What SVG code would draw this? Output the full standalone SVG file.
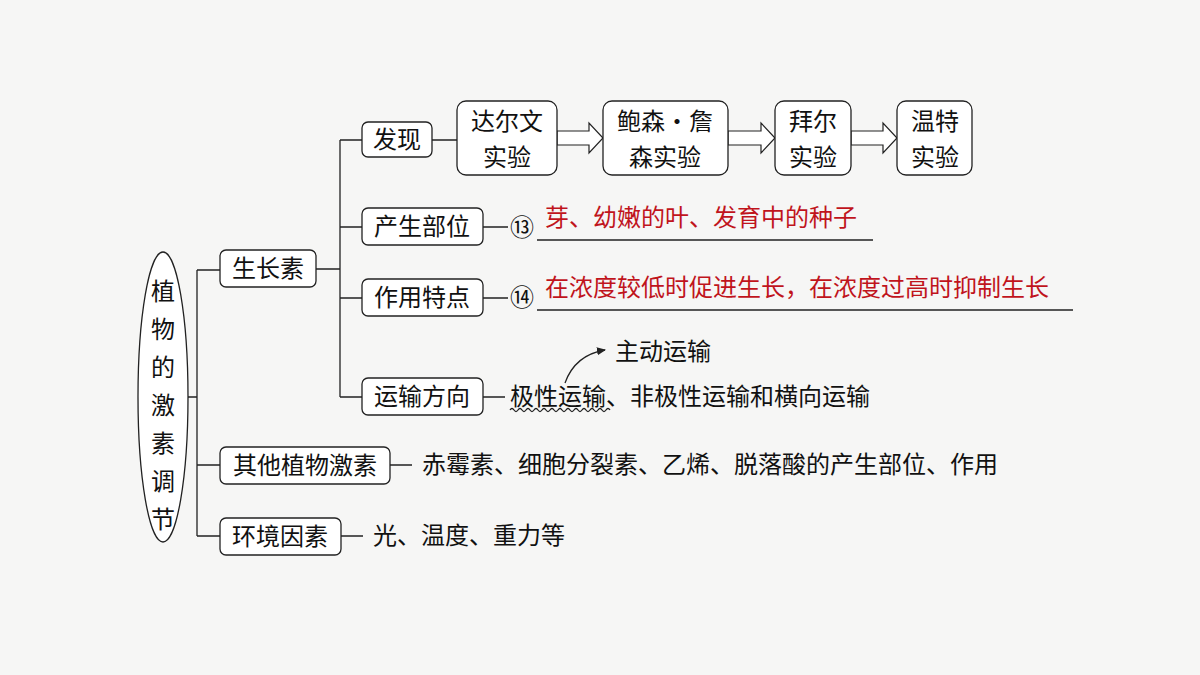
<svg xmlns="http://www.w3.org/2000/svg" width="1200" height="675" viewBox="0 0 1200 675">
<style>
text{font-family:"Noto Sans CJK SC","Noto Sans",sans-serif;font-size:24px;fill:#111}
.b{fill:#fff;stroke:#222;stroke-width:1.3}
.l{stroke:#222;stroke-width:1.3;fill:none}
.r{fill:#c0141c}
.ar{fill:#fff;stroke:#222;stroke-width:1.2}
</style>
<defs><marker id="m" markerWidth="10" markerHeight="10" refX="8" refY="5" orient="auto" markerUnits="userSpaceOnUse"><path d="M0,1 L9,5 L0,9 Z" fill="#222"/></marker></defs>
<rect width="1200" height="675" fill="#f6f6f5"/>
<g id="connectors">
<path class="l" d="M188,397H197M197,270V536M197,270H220M197,465H220M197,536H220M316,269H340M340,140V397M340,140H362M340,227H362M340,298H362M340,397H362M432,140H457M483,227H508M483,298H508M483,397H505M390,465H412M341,536H363"/>
<path class="l" d="M537,240H873M537,310H1073"/>
<path class="l" stroke-width="1" d="M510,410 q2,-3 4,0 t4,0 t4,0 t4,0 t4,0 t4,0 t4,0 t4,0 t4,0 t4,0 t4,0 t4,0 t4,0 t4,0 t4,0 t4,0 t4,0 t4,0 t4,0 t4,0 t4,0 t4,0 t4,0 t4,0 t4,0"/>
<path class="l" d="M565,383 Q575,355 605,350" marker-end="url(#m)"/>
<polygon class="ar" points="557,131 589,131 589,123 603,138 589,153 589,145 557,145"/>
<polygon class="ar" points="728,131 761,131 761,123 775,138 761,153 761,145 728,145"/>
<polygon class="ar" points="851,131 883,131 883,123 897,138 883,153 883,145 851,145"/>
</g>
<g id="n-root"><ellipse class="b" cx="163" cy="397" rx="25" ry="145"/>
<text x="163" y="300" text-anchor="middle">植</text><text x="163" y="338" text-anchor="middle">物</text><text x="163" y="376" text-anchor="middle">的</text><text x="163" y="414" text-anchor="middle">激</text><text x="163" y="452" text-anchor="middle">素</text><text x="163" y="490" text-anchor="middle">调</text><text x="163" y="528" text-anchor="middle">节</text></g>
<g id="n-auxin"><rect class="b" x="220" y="250" width="96" height="37" rx="6"/><text x="268" y="277" text-anchor="middle">生长素</text></g>
<g id="n-other"><rect class="b" x="220" y="447" width="170" height="37" rx="6"/><text x="305" y="474" text-anchor="middle">其他植物激素</text></g>
<g id="n-env"><rect class="b" x="220" y="518" width="121" height="37" rx="6"/><text x="280" y="545" text-anchor="middle">环境因素</text></g>
<g id="n-find"><rect class="b" x="362" y="122" width="70" height="35" rx="6"/><text x="397" y="148" text-anchor="middle">发现</text></g>
<g id="n-site"><rect class="b" x="362" y="208" width="121" height="37" rx="6"/><text x="422" y="235" text-anchor="middle">产生部位</text></g>
<g id="n-feat"><rect class="b" x="362" y="279" width="121" height="37" rx="6"/><text x="422" y="306" text-anchor="middle">作用特点</text></g>
<g id="n-trans"><rect class="b" x="362" y="378" width="121" height="37" rx="6"/><text x="422" y="405" text-anchor="middle">运输方向</text></g>
<g id="n-darwin"><rect class="b" x="457" y="101" width="100" height="74" rx="9"/><text x="507" y="130" text-anchor="middle">达尔文</text><text x="507" y="166" text-anchor="middle">实验</text></g>
<g id="n-boysen"><rect class="b" x="603" y="101" width="125" height="74" rx="9"/><text x="665" y="130" text-anchor="middle">鲍森·詹</text><text x="665" y="166" text-anchor="middle">森实验</text></g>
<g id="n-paal"><rect class="b" x="775" y="101" width="76" height="74" rx="9"/><text x="813" y="130" text-anchor="middle">拜尔</text><text x="813" y="166" text-anchor="middle">实验</text></g>
<g id="n-went"><rect class="b" x="897" y="101" width="75" height="74" rx="9"/><text x="935" y="130" text-anchor="middle">温特</text><text x="935" y="166" text-anchor="middle">实验</text></g>
<g id="t13"><text x="510" y="236" font-size="20">⑬</text><text class="r" x="545" y="226">芽、幼嫩的叶、发育中的种子</text></g>
<g id="t14"><text x="510" y="306" font-size="20">⑭</text><text class="r" x="545" y="296">在浓度较低时促进生长，在浓度过高时抑制生长</text></g>
<g id="t-trans"><text x="510" y="405">极性运输、非极性运输和横向运输</text><text x="615" y="360">主动运输</text></g>
<g id="t-other"><text x="422" y="473">赤霉素、细胞分裂素、乙烯、脱落酸的产生部位、作用</text></g>
<g id="t-env"><text x="373" y="544">光、温度、重力等</text></g>
</svg>
